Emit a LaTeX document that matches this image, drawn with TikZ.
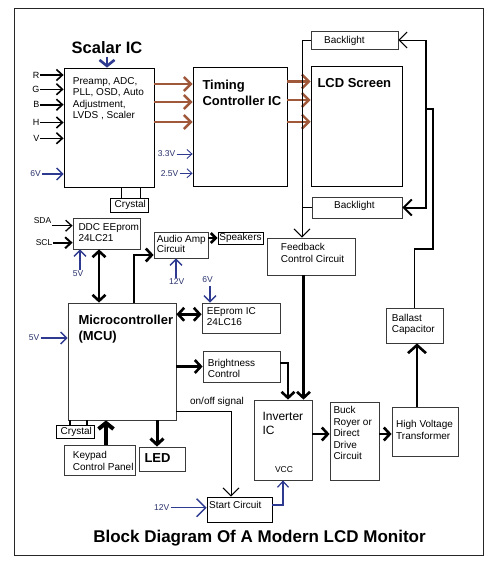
\documentclass[tikz,border=0pt]{standalone}
\usepackage{fontspec}
\setmainfont{Liberation Sans}
\usetikzlibrary{arrows.meta,fit}
\definecolor{video}{HTML}{A0583A}
\definecolor{power}{HTML}{2E3A8F}
\definecolor{vlabel}{HTML}{27306A}
\definecolor{edge}{HTML}{3A3A3A}

\begin{document}
\begin{tikzpicture}[x=1pt, y=-1pt,
  blk/.style={draw=edge, line width=0.8pt, inner sep=0pt},
  txt/.style={font=\fontsize{10}{11.4}\selectfont, align=left, inner sep=0pt, anchor=north west},
  big/.style={font=\fontsize{13}{15.5}\selectfont\bfseries, align=left, inner sep=0pt, anchor=north west},
  vlab/.style={font=\fontsize{8.5}{10}\selectfont, text=vlabel, inner sep=1pt},
  sig/.style={line width=1.6pt, -{Straight Barb[length=6pt,width=11pt]}},
  bus/.style={line width=2.6pt, -{Straight Barb[length=6pt,width=13pt]}},
  bus2/.style={line width=2.6pt, {Straight Barb[length=6pt,width=13pt]}-{Straight Barb[length=6pt,width=13pt]}},
  wire/.style={line width=1pt, -{Straight Barb[length=8pt,width=16pt]}},
  pwr/.style={draw=power, line width=1.4pt, -{Straight Barb[length=6pt,width=12pt]}},
  rgb/.style={draw=video, line width=2.4pt, -{Straight Barb[length=7pt,width=14pt]}}
]
  \useasboundingbox (0,0) rectangle (499,568);
  % Outer frame
  \draw[line width=1pt, draw=black!85] (14,8) rectangle (483,555);

  % Scalar IC
  \node[blk, draw=black, fit={(64,68) (154,187)}] (scaler) {};
  \node[txt, font=\fontsize{10}{11.3}\selectfont] (scaler-t) at (72.7,77.4) {Preamp, ADC,\\PLL, OSD, Auto\\Adjustment,\\LVDS , Scaler};
  \node[font=\fontsize{16.5}{18}\selectfont\bfseries, inner sep=0pt] (scaler-lab) at (107,47.7) {Scalar IC};
  \draw[pwr, line width=2.6pt, -{Straight Barb[length=6pt,width=15pt]}] ([yshift=-3pt]scaler-lab.south) -- (scaler-lab.south |- scaler.north);

  % Video inputs
  \foreach \y/\lab in {75/R, 89.3/G, 104.7/B, 122.5/H, 138.3/V} {
    \node[font=\fontsize{9}{10}\selectfont, anchor=east, inner sep=0.5pt] (in\lab) at (40,\y) {\lab};
    \draw[sig] (in\lab.east) -- (in\lab.east -| scaler.west);
  }
  \node[vlab, anchor=east] (v6s) at (42,174) {6V};
  \draw[pwr] (v6s.east) -- (v6s.east -| scaler.west);

  % Crystal of the scalar
  \node[blk, draw=black, fit={(110,198) (148,212)}] (xtal1) {};
  \node[txt, anchor=center] (xtal1-t) at (130.3,204.8) {Crystal};
  \draw[line width=1.5pt] (scaler.south -| 121.7,0) -- (xtal1.north -| 121.7,0);
  \draw[line width=1.5pt] (scaler.south -| 140.7,0) -- (xtal1.north -| 140.7,0);

  % Timing controller and LCD
  \node[blk, draw=black, fit={(193,67) (287,186)}] (tcon) {};
  \node[big] (tcon-t) at (202.3,80) {Timing\\Controller IC};
  \foreach \y in {84,102,122}
    \draw[rgb] (scaler.east |- 0,\y) -- (tcon.west |- 0,\y);
  \node[vlab, anchor=east] (v33) at (176.5,154) {3.3V};
  \draw[pwr, line width=0.9pt, -{Straight Barb[length=5pt,width=9pt]}] (v33.east) -- (v33.east -| tcon.west);
  \node[vlab, anchor=east] (v25) at (179.5,173.3) {2.5V};
  \draw[pwr, line width=0.9pt, -{Straight Barb[length=5pt,width=9pt]}] (v25.east) -- (v25.east -| tcon.west);

  \node[blk, draw=black, fit={(311,66) (402,186)}] (lcd) {};
  \node[big] (lcd-t) at (317.3,78.6) {LCD Screen};
  \foreach \y in {81.5,100,121.7}
    \draw[rgb] (tcon.east |- 0,\y) -- (lcd.west |- 0,\y);

  % Backlights
  \node[blk, fit={(311,31) (398,49)}] (bltop) {};
  \node[txt, anchor=west] (bltop-t) at (324,40.8) {Backlight};
  \node[blk, fit={(312,197) (402,218)}] (blbot) {};
  \node[txt, anchor=west] (blbot-t) at (334,206.3) {Backlight};

  % Feedback
  \node[blk, fit={(267,238) (355,275)}] (fb) {};
  \node[txt, font=\fontsize{10}{12.3}\selectfont] (fb-t) at (280.7,243.1) {Feedback\\Control Circuit};
  \coordinate (fbin) at ([xshift=-9pt]fb.north);
  \draw[wire] (bltop.west) -| (fbin);
  \draw[line width=1pt] (blbot.west) -- (blbot.west -| fbin);

  % Ballast, transformer, drive
  \node[blk, fit={(386,308) (443,343)}] (bal) {};
  \node[txt, font=\fontsize{10}{11.3}\selectfont] (bal-t) at (391.7,314.1) {Ballast\\Capacitor};
  \node[blk, fit={(392,407) (458,456)}] (hv) {};
  \node[txt, font=\fontsize{10}{11.6}\selectfont] (hv-t) at (396,420.1) {High Voltage\\Transformer};
  \node[blk, fit={(330,402) (379,480)}] (buck) {};
  \node[txt] (buck-t) at (333.3,406.4) {Buck\\Royer or\\Direct\\Drive\\Circuit};
  \node[blk, fit={(254,400) (312,480)}] (inv) {};
  \node[txt, font=\fontsize{12}{13.3}\selectfont] (inv-t) at (262.3,412.4) {Inverter\\IC};
  \node[font=\fontsize{8.5}{10}\selectfont, inner sep=0pt] (vcc) at (284,470) {VCC};

  \coordinate (blbus) at (426,40);
  \coordinate (bljn) at (426,109);
  \draw[wire] (blbus) -- (bltop.east);
  \draw[wire, line width=2pt] (blbus) |- (blbot.east);
  \draw[line width=1.5pt] (bljn) -| (433,249) -| (bal.north);
  \draw[bus, -{Straight Barb[length=8pt,width=18pt]}] ([xshift=-8pt]hv.north) -- ([xshift=-8pt]hv.north |- bal.south);
  \draw[bus] (inv.east |- 0,434) -- (buck.west |- 0,434);
  \draw[bus] (buck.east |- 0,434) -- (hv.west |- 0,434);
  \draw[bus] ([xshift=-7.5pt]fb.south) -- ([xshift=-7.5pt]fb.south |- inv.north);

  % Microcontroller and peripherals
  \node[blk, fit={(68,303) (176,420)}] (mcu) {};
  \node[big, font=\fontsize{13}{16}\selectfont\bfseries] (mcu-t) at (78.3,315.3) {Microcontroller\\(MCU)};
  \node[vlab, anchor=east] (v5m) at (40.5,338) {5V};
  \draw[pwr] (v5m.east) -- (v5m.east -| mcu.west);

  \node[blk, fit={(73,218) (140,249)}] (ddc) {};
  \node[txt, font=\fontsize{10}{11}\selectfont] (ddc-t) at (78.3,223.1) {DDC EEprom\\24LC21};
  \node[font=\fontsize{8.5}{10}\selectfont, anchor=east, inner sep=0.5pt] (sda) at (52,220.7) {SDA};
  \draw[sig, line width=1.3pt] ([yshift=-5pt]sda.east) -- ([yshift=-5pt]sda.east -| ddc.west);
  \node[font=\fontsize{8.5}{10}\selectfont, anchor=east, inner sep=0.5pt] (sclin) at (53,242.7) {SCL};
  \draw[sig, line width=2pt] (sclin.east) -- (sclin.east -| ddc.west);
  \node[vlab] (v5d) at (78,274) {5V};
  \draw[pwr] (v5d.north -| 80,0) -- (ddc.south -| 80,0);
  \draw[bus2] (ddc.south -| 99,0) -- (mcu.north -| 99,0);

  \node[blk, fit={(154,232) (208,258)}] (audio) {};
  \node[txt, font=\fontsize{10}{10.7}\selectfont] (audio-t) at (156.7,234.7) {Audio Amp\\Circuit};
  \node[blk, draw=black, fit={(218,232) (263,244)}] (spk) {};
  \node[txt, anchor=center] (spk-t) at (240.5,238.2) {Speakers};
  \draw[bus] (mcu.north -| 134,0) |- ([yshift=-10pt]audio.west);
  \draw[bus, -{Straight Barb[length=5pt,width=10pt]}] (spk.west -| audio.east) -- (spk.west);
  \node[vlab] (v12a) at (176.7,281.7) {12V};
  \draw[pwr] (v12a.north -| 176,0) -- (audio.south -| 176,0);

  \node[blk, fit={(202,303) (280,333)}] (eep) {};
  \node[txt, font=\fontsize{10}{11}\selectfont] (eep-t) at (206.7,307.4) {EEprom IC\\24LC16};
  \node[vlab] (v6e) at (207.5,279.3) {6V};
  \draw[pwr] ([yshift=-2pt]v6e.south -| 210,0) -- (eep.north -| 210,0);
  \draw[bus2] (mcu.east |- 0,314.3) -- (eep.west |- 0,314.3);

  \node[blk, fit={(203,351) (280,382)}] (bright) {};
  \node[txt, font=\fontsize{10}{11}\selectfont] (bright-t) at (207.7,358.7) {Brightness\\Control};
  \draw[bus] (bright.west -| mcu.east) -- (bright.west);
  \draw[bus] ([yshift=3.5pt]bright.east) -| ([xshift=5pt]inv.north);

  \node[blk, draw=black, fit={(56,425) (94,438)}] (xtal2) {};
  \node[txt, anchor=center] (xtal2-t) at (76.3,431.9) {Crystal};
  \draw[line width=1.2pt] (mcu.south -| 70,0) -- (xtal2.north -| 70,0);
  \draw[line width=1.2pt] (mcu.south -| 87,0) -- (xtal2.north -| 87,0);

  \node[blk, fit={(64,445) (135,475)}] (keypad) {};
  \node[txt, font=\fontsize{10}{12}\selectfont] (keypad-t) at (72.7,451.4) {Keypad\\Control Panel};
  \draw[bus, line width=4pt, -{Straight Barb[length=6pt,width=15pt]}] (keypad.north -| 106,0) -- (mcu.south -| 106,0);

  \node[blk, fit={(139,447) (185,471)}] (led) {};
  \node[big] (led-t) at (144.3,453) {LED};
  \draw[bus, line width=3pt] (mcu.south -| 157,0) -- (led.north -| 157,0);

  % Start circuit
  \node[blk, draw=black, fit={(207,497) (272,522)}] (start) {};
  \node[txt] (start-t) at (209,500.7) {Start Circuit};
  \node[txt, anchor=center] (onoff) at (217,402) {on/off signal};
  \draw[wire] (mcu.east |- 0,411) -| ([xshift=-8.5pt]start.north);
  \node[vlab, anchor=east] (v12s) at (170.5,507.7) {12V};
  \draw[pwr, -{Straight Barb[length=9pt,width=18pt]}] (v12s.east) -- (v12s.east -| start.west);
  \draw[pwr, line width=1.2pt, -{Straight Barb[length=6pt,width=11pt]}] ([yshift=4.5pt]start.east) -| (inv.south);

  % Title
  \node[font=\fontsize{17}{20}\selectfont\bfseries, inner sep=0pt] (title) at (259.5,538) {Block Diagram Of A Modern LCD Monitor};
\end{tikzpicture}
\end{document}
